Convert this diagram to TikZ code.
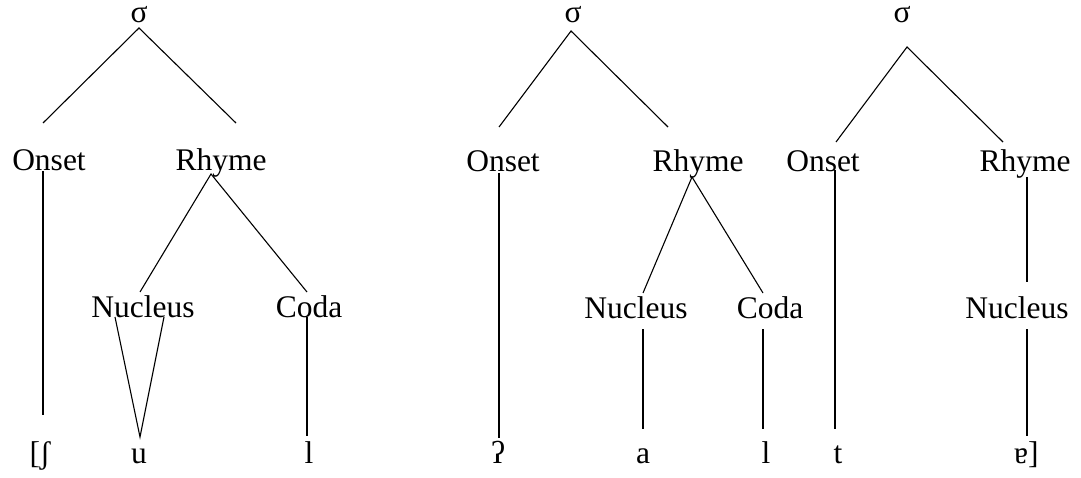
\documentclass[tikz,border=0pt]{standalone}
\usepackage{fontspec}
\setmainfont{Liberation Serif}
\usetikzlibrary{calc}
\begin{document}
\begin{tikzpicture}[x=1pt,y=-1pt,
  lbl/.style={anchor=base, inner sep=0pt, font=\fontsize{31.5}{36}\selectfont},
  br/.style={line width=1.1pt}]
\useasboundingbox (0,0) rectangle (1081,478);
% ---------- tree 1 ----------
\node[lbl] (s1) at (139,23) {σ};
\node[lbl] (on1) at (49,171) {Onset};
\node[lbl] (rh1) at (221,171) {Rhyme};
\node[lbl] (nu1) at (143,317) {Nucleus};
\node[lbl] (co1) at (309,317) {Coda};
\node[lbl] (b1) at (40,463) {[ʃ};
\node[lbl] (u1) at (139,463) {u};
\node[lbl] (l1) at (309,463) {l};
\draw[br] ($(on1.base)+(-6,-48)$) -- ($(s1.base)+(0,5)$) -- ($(rh1.base)+(15,-48)$);
\draw[br] ($(on1.base)+(-6,0)$) -- ($(b1.base)+(3,-48)$);
\draw[br] ($(nu1.base)+(-3,-25)$) -- ($(rh1.base)+(-10,3)$) -- ($(co1.base)+(-2,-25)$);
\draw[br] ($(nu1.base)+(-28,0)$) -- ($(u1.base)+(1,-26)$) -- ($(nu1.base)+(21,0)$);
\draw[br] ($(co1.base)+(-2,0)$) -- ($(l1.base)+(-2,-27)$);
% ---------- tree 2 ----------
\node[lbl] (s2) at (573,23) {σ};
\node[lbl] (on2) at (503,172) {Onset};
\node[lbl] (rh2) at (698,172) {Rhyme};
\node[lbl] (nu2) at (636,318) {Nucleus};
\node[lbl] (co2) at (770,318) {Coda};
\node[lbl] (q2) at (498,463) {ʔ};
\node[lbl] (a2) at (643,463) {a};
\node[lbl] (l2) at (766,463) {l};
\draw[br] ($(on2.base)+(-4,-45)$) -- ($(s2.base)+(-2,8)$) -- ($(rh2.base)+(-30,-45)$);
\draw[br] ($(on2.base)+(-4,1)$) -- ($(q2.base)+(1,-25)$);
\draw[br] ($(nu2.base)+(7,-25)$) -- ($(rh2.base)+(-6,5)$) -- ($(co2.base)+(-7,-25)$);
\draw[br] ($(nu2.base)+(7,11)$) -- ($(a2.base)+(0,-34)$);
\draw[br] ($(co2.base)+(-7,11)$) -- ($(l2.base)+(-3,-34)$);
% ---------- tree 3 ----------
\node[lbl] (s3) at (902,23) {σ};
\node[lbl] (on3) at (823,172) {Onset};
\node[lbl] (rh3) at (1025,172) {Rhyme};
\node[lbl] (nu3) at (1017,318) {Nucleus};
\node[lbl] (t3) at (838,463) {t};
\node[lbl, anchor=base west] (e3) at (1014,463) {ɐ]};
\draw[br] ($(on3.base)+(13,-30)$) -- ($(s3.base)+(5,24)$) -- ($(rh3.base)+(-22,-30)$);
\draw[br] ($(on3.base)+(12,-2)$) -- ($(t3.base)+(-3,-34)$);
\draw[br] ($(rh3.base)+(2,5)$) -- ($(nu3.base)+(10,-36)$);
\draw[br] ($(nu3.base)+(10,11)$) -- ($(e3.base west)+(13,-27)$);
\end{tikzpicture}
\end{document}
